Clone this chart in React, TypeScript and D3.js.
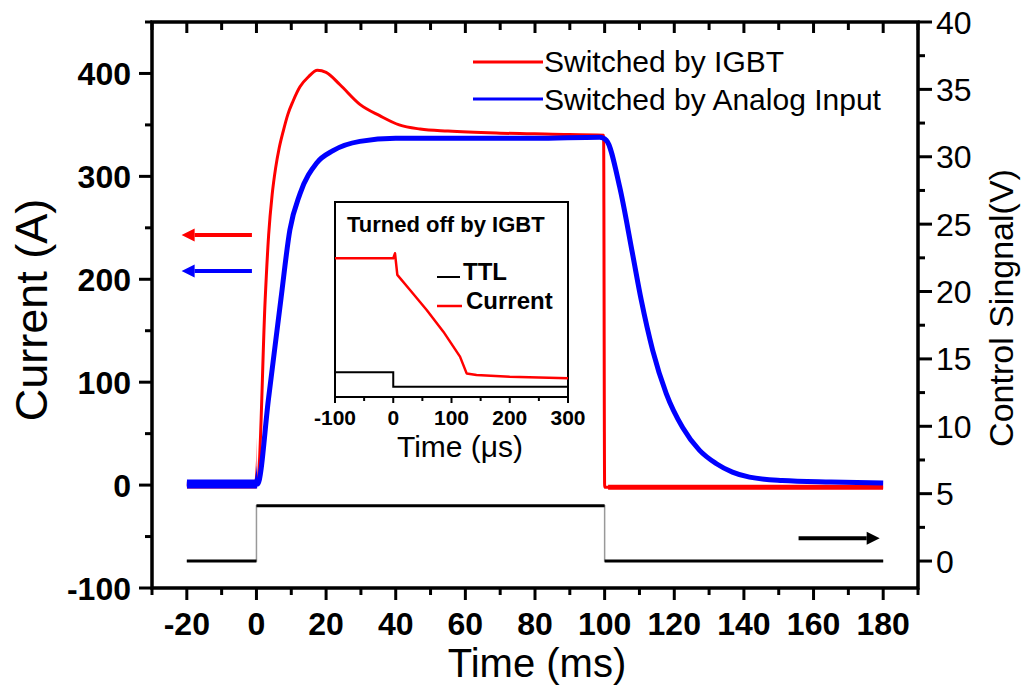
import React from 'react';
import * as d3 from 'd3';

// ---- Main chart data ----
const igbtTime = [-20, 0, 0.5, 2.5, 3.5, 4.5, 5.5, 6.5, 7.7, 9, 10.5, 12.5, 15, 17.5, 20, 24, 29.7, 35.4, 41, 47, 55, 70, 85, 99.7, 100, 140, 180];
const igbtCurrent = [0, 0, 5, 180, 243, 282, 308, 327, 344, 360, 373, 387, 397, 403, 401, 389, 370, 359, 350, 346, 344, 342, 341, 340, -2, -2, -2];

const analogTime = [-20, 0, 0.3, 3.5, 7, 9.6, 12.5, 17.3, 22, 29.7, 40, 60, 80, 98.6, 100.5, 104.3, 108, 110.5, 113.8, 117.7, 122.4, 127.2, 132, 136.7, 141.6, 151, 165, 180];
const analogCurrent = [1, 1, 1, 85, 180, 248, 283, 313, 325, 334, 337, 337, 337, 338, 335, 290, 225, 180, 131, 89, 56, 34, 21, 12.6, 7.7, 4.5, 3, 2];

const ttlTime = [-20, 0, 100, 180];
const ttlVolt = [0, 4.1, 0, 0];

// time ranges where a trace shows a wide noise band (start, end)
const igbtNoisyStart = [-20, 101];
const igbtNoisyEnd = [0, 180];
const analogNoisyStart = [-20];
const analogNoisyEnd = [0.2];

// tick values
const xTicks = [-20, 0, 20, 40, 60, 80, 100, 120, 140, 160, 180];
const xMinor = [-30, -10, 10, 30, 50, 70, 90, 110, 130, 150, 170, 190];
const yLeftTicks = [-100, 0, 100, 200, 300, 400];
const yLeftMinor = [-50, 50, 150, 250, 350, 450];
const yRightTicks = [0, 5, 10, 15, 20, 25, 30, 35, 40];
const yRightMinor = [2.5, 7.5, 12.5, 17.5, 22.5, 27.5, 32.5, 37.5];

// annotation arrows (data coords): [y, tail time, head time]
const arrowRed = [243, -1.3, -21.5];
const arrowBlue = [208, -1.3, -21.5];
const arrowBlack = [1.7, 155.7, 179];

// ---- Inset data ----
const insetTime = [-100, 0, 3, 7, 28.8, 57.4, 86, 114.6, 126, 143, 200, 300];
const insetCurrent = [71.1, 71.1, 73.7, 62.6, 54.9, 44.6, 33.5, 20.7, 12.1, 11.3, 10.4, 9.6];
const insetTtlTime = [-100, 0, 300];
const insetTtlLevel = [12.7, 5.3, 5.3];
const insetTicks = [-100, 0, 100, 200, 300];
const insetMinor = [-50, 50, 150, 250];

const FONT = "'Liberation Sans', Arial, Helvetica, sans-serif";

export default function App() {
  const x = d3.scaleLinear().domain([-30, 190]).range([152, 918]);
  const yL = d3.scaleLinear().domain([-100, 450]).range([588, 22]);
  const yR = d3.scaleLinear().domain([-2, 40]).range([588, 22]);

  const xi = d3.scaleLinear().domain([-100, 300]).range([335, 568]);
  const yi = d3.scaleLinear().domain([0, 100]).range([397, 202]);

  const lineL = d3.line<[number, number]>().x(d => x(d[0])).y(d => yL(d[1])).curve(d3.curveMonotoneX);
  const igbtPath = lineL(igbtTime.map((t, i) => [t, igbtCurrent[i]]) as [number, number][]) || '';
  const analogPath = lineL(analogTime.map((t, i) => [t, analogCurrent[i]]) as [number, number][]) || '';
  const ttlStep = d3.line<[number, number]>().x(d => x(d[0])).y(d => yR(d[1])).curve(d3.curveStepAfter);
  const ttlPath = ttlStep(ttlTime.map((t, i) => [t, ttlVolt[i]]) as [number, number][]) || '';
  const ttlSegs = ttlTime.slice(0, -1).map((t, i) => [t, ttlTime[i + 1], ttlVolt[i]]);

  const insetLine = d3.line<[number, number]>().x(d => xi(d[0])).y(d => yi(d[1]));
  const insetRed = insetLine(insetTime.map((t, i) => [t, insetCurrent[i]]) as [number, number][]) || '';
  const insetStep = d3.line<[number, number]>().x(d => xi(d[0])).y(d => yi(d[1])).curve(d3.curveStepAfter);
  const insetTtl = insetStep(insetTtlTime.map((t, i) => [t, insetTtlLevel[i]]) as [number, number][]) || '';

  const arrow = (a: number[], yScale: any, color: string, key: string) => {
    const y = yScale(a[0]);
    const x0 = x(a[1]);
    const x1 = x(a[2]);
    const dir = x1 > x0 ? 1 : -1;
    const hl = 13;
    return (
      <g key={key}>
        <line x1={x0} y1={y} x2={x1 - dir * hl} y2={y} stroke={color} strokeWidth={4} />
        <polygon points={`${x1},${y} ${x1 - dir * hl},${y - 6.5} ${x1 - dir * hl},${y + 6.5}`} fill={color} />
      </g>
    );
  };

  const [X0, X1] = x.range();
  const [Y0, Y1] = [yL.range()[1], yL.range()[0]];

  const bandWidthsRed = [7, 5];
  const bandWidthsBlue = [9];

  return (
    <svg width={1026} height={688} style={{ position: 'absolute', left: 0, top: 0, background: '#fff' }} fontFamily={FONT}>
      <defs>
        {igbtNoisyStart.map((t, i) => (
          <clipPath key={'cr' + i} id={'clipRed' + i}>
            <rect x={x(t)} y={0} width={x(igbtNoisyEnd[i]) - x(t)} height={688} />
          </clipPath>
        ))}
        {analogNoisyStart.map((t, i) => (
          <clipPath key={'cb' + i} id={'clipBlue' + i}>
            <rect x={x(t)} y={0} width={x(analogNoisyEnd[i]) - x(t)} height={688} />
          </clipPath>
        ))}
      </defs>
      <rect x={0} y={0} width={1026} height={688} fill="#fff" />

      {/* data lines */}
      <path d={ttlPath} fill="none" stroke="#999" strokeWidth={1.5} />
      {ttlSegs.map((s, i) => (
        <line key={'tt' + i} x1={x(s[0])} x2={x(s[1])} y1={yR(s[2])} y2={yR(s[2])} stroke="#000" strokeWidth={3} />
      ))}
      <path d={igbtPath} fill="none" stroke="#ff0000" strokeWidth={3} />
      {igbtNoisyStart.map((t, i) => (
        <path key={'rb' + i} d={igbtPath} fill="none" stroke="#ff0000" strokeWidth={bandWidthsRed[i]} clipPath={`url(#clipRed${i})`} />
      ))}
      <path d={analogPath} fill="none" stroke="#0000ff" strokeWidth={5} />
      {analogNoisyStart.map((t, i) => (
        <path key={'bb' + i} d={analogPath} fill="none" stroke="#0000ff" strokeWidth={bandWidthsBlue[i]} clipPath={`url(#clipBlue${i})`} />
      ))}

      {/* arrows */}
      {arrow(arrowRed, yL, '#ff0000', 'ar')}
      {arrow(arrowBlue, yL, '#0000ff', 'ab')}
      {arrow(arrowBlack, yR, '#000000', 'ak')}

      {/* frame */}
      <rect x={X0} y={Y0} width={X1 - X0} height={Y1 - Y0} fill="none" stroke="#000" strokeWidth={3.5} />

      {/* bottom axis ticks (outward) */}
      {xTicks.map(v => <line key={'bx' + v} x1={x(v)} x2={x(v)} y1={Y1} y2={Y1 + 12} stroke="#000" strokeWidth={3} />)}
      {xMinor.map(v => <line key={'bm' + v} x1={x(v)} x2={x(v)} y1={Y1} y2={Y1 + 7} stroke="#000" strokeWidth={3} />)}
      {/* top axis ticks (inward) */}
      {xTicks.map(v => <line key={'tx' + v} x1={x(v)} x2={x(v)} y1={Y0} y2={Y0 + 11} stroke="#000" strokeWidth={3} />)}
      {xMinor.map(v => <line key={'tm' + v} x1={x(v)} x2={x(v)} y1={Y0} y2={Y0 + 8} stroke="#000" strokeWidth={3} />)}
      {/* left axis ticks */}
      {yLeftTicks.map(v => <line key={'ly' + v} x1={X0 - 13} x2={X0} y1={yL(v)} y2={yL(v)} stroke="#000" strokeWidth={3} />)}
      {yLeftMinor.map(v => <line key={'lm' + v} x1={X0 - 7} x2={X0} y1={yL(v)} y2={yL(v)} stroke="#000" strokeWidth={3} />)}
      {/* right axis ticks */}
      {yRightTicks.map(v => <line key={'ry' + v} x1={X1} x2={X1 + 14} y1={yR(v)} y2={yR(v)} stroke="#000" strokeWidth={3} />)}
      {yRightMinor.map(v => <line key={'rm' + v} x1={X1} x2={X1 + 7} y1={yR(v)} y2={yR(v)} stroke="#000" strokeWidth={3} />)}

      {/* tick labels */}
      {xTicks.map(v => (
        <text key={'xl' + v} x={x(v)} y={635} textAnchor="middle" fontSize={32} fontWeight="bold">{v}</text>
      ))}
      {yLeftTicks.map(v => (
        <text key={'yl' + v} x={131} y={yL(v) + 11.5} textAnchor="end" fontSize={32} fontWeight="bold">{v}</text>
      ))}
      {yRightTicks.map(v => (
        <text key={'yr' + v} x={936} y={yR(v) + 11.5} textAnchor="start" fontSize={32}>{v}</text>
      ))}

      {/* axis titles */}
      <text x={537} y={677} textAnchor="middle" fontSize={40}>Time (ms)</text>
      <text transform="translate(47,310) rotate(-90)" textAnchor="middle" fontSize={45}>Current (A)</text>
      <text transform="translate(1013,308) rotate(-90)" textAnchor="middle" fontSize={34}>Control Singnal(V)</text>

      {/* legend */}
      <line x1={473} x2={543} y1={62} y2={62} stroke="#ff0000" strokeWidth={3} />
      <text x={544} y={72} fontSize={30}>Switched by IGBT</text>
      <line x1={473} x2={543} y1={99} y2={99} stroke="#0000ff" strokeWidth={3} />
      <text x={544} y={110} fontSize={30}>Switched by Analog Input</text>

      {/* inset */}
      <g>
        <rect x={xi.range()[0]} y={yi.range()[1]} width={xi.range()[1] - xi.range()[0]} height={yi.range()[0] - yi.range()[1]} fill="#fff" stroke="#000" strokeWidth={2} />
        <path d={insetTtl} fill="none" stroke="#000" strokeWidth={2} />
        <path d={insetRed} fill="none" stroke="#ff0000" strokeWidth={2.5} strokeLinejoin="round" />
        {insetTicks.map(v => <line key={'it' + v} x1={xi(v)} x2={xi(v)} y1={397} y2={403} stroke="#000" strokeWidth={2} />)}
        {insetMinor.map(v => <line key={'im' + v} x1={xi(v)} x2={xi(v)} y1={397} y2={401} stroke="#000" strokeWidth={2} />)}
        {insetTicks.map(v => (
          <text key={'il' + v} x={xi(v)} y={425} textAnchor="middle" fontSize={21} fontWeight="bold">{v}</text>
        ))}
        <text x={460} y={457} textAnchor="middle" fontSize={30}>Time (μs)</text>
        <text x={347} y={232} fontSize={22} fontWeight="bold">Turned off by IGBT</text>
        <line x1={437} x2={460} y1={277} y2={277} stroke="#000" strokeWidth={2} />
        <text x={463} y={280} fontSize={24} fontWeight="bold">TTL</text>
        <line x1={437} x2={462} y1={306} y2={306} stroke="#ff0000" strokeWidth={2.5} />
        <text x={466} y={309} fontSize={24} fontWeight="bold">Current</text>
      </g>
    </svg>
  );
}
